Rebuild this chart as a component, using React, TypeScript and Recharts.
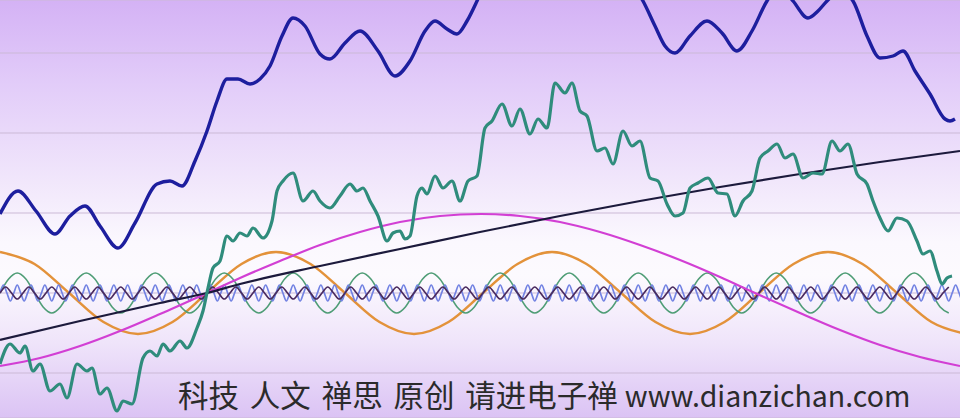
import { LineChart, Line, XAxis, YAxis, CartesianGrid } from "recharts"

// y values are relative to the zero line of the picture
const sumX = [0, 18, 36, 55, 70, 85, 100, 118, 135, 157, 170, 182, 195, 207, 217, 227, 238, 250, 260, 270, 282, 293, 305, 320, 330, 345, 360, 378, 395, 410, 425, 435, 447, 457, 467, 477, 490, 510, 530, 550, 570, 590, 610, 630, 643, 655, 665, 675, 690, 707, 722, 737, 752, 767, 780, 793, 808, 818, 827, 840, 853, 867, 880, 893, 903, 915, 930, 945, 950, 955]
const sumY = [79, 102, 82, 59, 77, 87, 67, 45, 70, 109, 112, 107, 132, 162, 192, 214, 214, 209, 214, 227, 257, 275, 267, 239, 234, 250, 262, 242, 217, 232, 262, 272, 264, 259, 272, 292, 322, 347, 337, 327, 347, 352, 332, 312, 292, 267, 247, 240, 257, 272, 260, 242, 262, 292, 307, 292, 275, 282, 292, 302, 292, 257, 235, 237, 242, 222, 199, 174, 172, 174]

const partX = [0, 10, 20, 25, 33, 40, 50, 60, 67, 77, 87, 92, 100, 107, 117, 123, 132, 143, 150, 157, 163, 170, 180, 187, 197, 203, 208, 213, 220, 227, 233, 240, 247, 253, 263, 272, 277, 283, 293, 303, 313, 320, 330, 340, 350, 357, 363, 370, 378, 387, 393, 400, 405, 410, 417, 422, 427, 435, 443, 452, 460, 468, 477, 485, 492, 502, 512, 520, 530, 538, 547, 555, 565, 572, 580, 587, 597, 605, 613, 623, 632, 640, 650, 658, 667, 675, 683, 690, 698, 708, 718, 727, 735, 743, 752, 760, 768, 777, 785, 793, 803, 813, 822, 832, 840, 848, 857, 867, 873, 880, 888, 897, 907, 917, 923, 930, 937, 942, 947, 952]
const partY = [-71, -51, -60, -53, -78, -71, -98, -91, -105, -71, -78, -75, -101, -95, -118, -108, -111, -65, -58, -63, -51, -58, -48, -55, -35, -18, 5, 25, 32, 57, 52, 60, 57, 65, 55, 72, 102, 112, 120, 92, 102, 92, 85, 97, 109, 102, 105, 92, 77, 52, 60, 62, 54, 57, 97, 105, 99, 117, 105, 112, 92, 112, 117, 165, 172, 189, 167, 184, 159, 174, 165, 210, 200, 210, 182, 177, 142, 145, 129, 162, 147, 152, 115, 112, 89, 77, 80, 105, 110, 115, 100, 99, 77, 92, 102, 135, 142, 149, 135, 139, 115, 120, 119, 152, 142, 149, 119, 109, 92, 75, 62, 75, 72, 52, 39, 42, 22, 9, 15, 17]

const slowX = [0, 80, 160, 207, 240, 320, 400, 480, 560, 640, 720, 800, 880, 960]
const slowY = [-47, -28, -10, 0, 9, 27, 44, 61, 77, 92, 106, 119, 131, 142]

const halfX = [0, 40, 80, 120, 160, 207, 240, 280, 320, 360, 400, 440, 481, 520, 560, 600, 640, 680, 720, 755, 800, 840, 880, 920, 960]
const halfY = [-73, -65, -53, -38, -21, 0, 15, 32, 48, 61, 71, 77, 79, 77, 71, 61, 48, 33, 16, 0, -20, -37, -52, -64, -73]

const orangeStep = 34.5
const orangeY = [41, 29, 0, -29, -41, -29, 0, 29, 41, 29, 0, -29, -41, -29, 0, 29, 41, 29, 0, -29, -41, -29, 0, 29, 41, 29, 0, -29, -41]

const greenStep = 8.625
const greenY = [
  0, 14, 20, 14, 0, -14, -20, -14, 0, 14, 20, 14, 0, -14, -20, -14,
  0, 14, 20, 14, 0, -14, -20, -14, 0, 14, 20, 14, 0, -14, -20, -14,
  0, 14, 20, 14, 0, -14, -20, -14, 0, 14, 20, 14, 0, -14, -20, -14,
  0, 14, 20, 14, 0, -14, -20, -14, 0, 14, 20, 14, 0, -14, -20, -14,
  0, 14, 20, 14, 0, -14, -20, -14, 0, 14, 20, 14, 0, -14, -20, -14,
  0, 14, 20, 14, 0, -14, -20, -14, 0, 14, 20, 14, 0, -14, -20, -14,
  0, 14, 20, 14, 0, -14, -20, -14, 0, 14, 20, 14, 0, -14, -20,
]

const blueStep = 3.45
const blueY = [
  0, 8, 0, -8, 0, 8, 0, -8, 0, 8, 0, -8, 0, 8, 0, -8, 0, 8, 0, -8, 0, 8, 0, -8,
  0, 8, 0, -8, 0, 8, 0, -8, 0, 8, 0, -8, 0, 8, 0, -8, 0, 8, 0, -8, 0, 8, 0, -8,
  0, 8, 0, -8, 0, 8, 0, -8, 0, 8, 0, -8, 0, 8, 0, -8, 0, 8, 0, -8, 0, 8, 0, -8,
  0, 8, 0, -8, 0, 8, 0, -8, 0, 8, 0, -8, 0, 8, 0, -8, 0, 8, 0, -8, 0, 8, 0, -8,
  0, 8, 0, -8, 0, 8, 0, -8, 0, 8, 0, -8, 0, 8, 0, -8, 0, 8, 0, -8, 0, 8, 0, -8,
  0, 8, 0, -8, 0, 8, 0, -8, 0, 8, 0, -8, 0, 8, 0, -8, 0, 8, 0, -8, 0, 8, 0, -8,
  0, 8, 0, -8, 0, 8, 0, -8, 0, 8, 0, -8, 0, 8, 0, -8, 0, 8, 0, -8, 0, 8, 0, -8,
  0, 8, 0, -8, 0, 8, 0, -8, 0, 8, 0, -8, 0, 8, 0, -8, 0, 8, 0, -8, 0, 8, 0, -8,
  0, 8, 0, -8, 0, 8, 0, -8, 0, 8, 0, -8, 0, 8, 0, -8, 0, 8, 0, -8, 0, 8, 0, -8,
  0, 8, 0, -8, 0, 8, 0, -8, 0, 8, 0, -8, 0, 8, 0, -8, 0, 8, 0, -8, 0, 8, 0, -8,
  0, 8, 0, -8, 0, 8, 0, -8, 0, 8, 0, -8, 0, 8, 0, -8, 0, 8, 0, -8, 0, 8, 0, -8,
  0, 8, 0, -8, 0, 8, 0, -8, 0, 8, 0, -8, 0, 8, 0, -8, 0, 8, 0, -8, 0,
]

const purpleStep = 5.75
const purpleY = [
  0, 6, 0, -6, 0, 6, 0, -6, 0, 6, 0, -6, 0, 6, 0, -6, 0, 6, 0, -6, 0, 6, 0, -6,
  0, 6, 0, -6, 0, 6, 0, -6, 0, 6, 0, -6, 0, 6, 0, -6, 0, 6, 0, -6, 0, 6, 0, -6,
  0, 6, 0, -6, 0, 6, 0, -6, 0, 6, 0, -6, 0, 6, 0, -6, 0, 6, 0, -6, 0, 6, 0, -6,
  0, 6, 0, -6, 0, 6, 0, -6, 0, 6, 0, -6, 0, 6, 0, -6, 0, 6, 0, -6, 0, 6, 0, -6,
  0, 6, 0, -6, 0, 6, 0, -6, 0, 6, 0, -6, 0, 6, 0, -6, 0, 6, 0, -6, 0, 6, 0, -6,
  0, 6, 0, -6, 0, 6, 0, -6, 0, 6, 0, -6, 0, 6, 0, -6, 0, 6, 0, -6, 0, 6, 0, -6,
  0, 6, 0, -6, 0, 6, 0, -6, 0, 6, 0, -6, 0, 6, 0, -6, 0, 6, 0, -6, 0, 6,
]

const gridTicks = [-80, 0, 80, 160, 240]
const captionCjk = "科技 人文 禅思 原创 请进电子禅"
const captionUrl = "www.dianzichan.com"

const pairs = (xs: number[], ys: number[]) => xs.map((x, i) => ({ x, y: ys[i] }))
const stepped = (step: number, ys: number[]) => ys.map((y, i) => ({ x: i * step, y }))

const sumData = pairs(sumX, sumY)
const partData = pairs(partX, partY)
const slowData = pairs(slowX, slowY)
const halfData = pairs(halfX, halfY)
const orangeData = stepped(orangeStep, orangeY)
const greenData = stepped(greenStep, greenY)
const blueData = stepped(blueStep, blueY)
const purpleData = stepped(purpleStep, purpleY)

const lineProps = { dataKey: "y", type: "monotone" as const, dot: false, activeDot: false, isAnimationActive: false }

export default function App() {
  return (
    <div
      style={{
        position: "absolute",
        left: 0,
        top: 0,
        width: 960,
        height: 418,
        overflow: "hidden",
        background:
          "linear-gradient(to bottom, #d4b2f5 0%, #e2ccf9 20%, #f0e5fb 42%, #fbf8fe 58%, #fcfafe 66%, #efe4fa 82%, #dbc3f4 100%)",
      }}
    >
      <LineChart width={960} height={418} margin={{ top: 0, right: 0, bottom: 0, left: 0 }}>
        <CartesianGrid vertical={false} stroke="#cbb9d6" strokeWidth={1} />
        <XAxis type="number" dataKey="x" domain={[0, 960]} hide allowDataOverflow />
        <YAxis type="number" domain={[-125, 293]} ticks={gridTicks} hide allowDataOverflow />
        <Line {...lineProps} data={orangeData} stroke="#e3923a" strokeWidth={2.5} />
        <Line {...lineProps} data={greenData} stroke="#4f9d76" strokeWidth={1.6} />
        <Line {...lineProps} data={blueData} stroke="#7282e2" strokeWidth={1.7} />
        <Line {...lineProps} data={purpleData} stroke="#4a2a5e" strokeWidth={1.7} />
        <Line {...lineProps} data={halfData} stroke="#d23fd4" strokeWidth={2.2} />
        <Line {...lineProps} data={slowData} stroke="#1c1a3c" strokeWidth={2.2} />
        <Line {...lineProps} data={partData} stroke="#2f8c7c" strokeWidth={3.2} />
        <Line {...lineProps} data={sumData} stroke="#1d1e9e" strokeWidth={3.4} />
      </LineChart>
      <div
        style={{
          position: "absolute",
          left: 178,
          top: 374,
          fontFamily: "'Noto Sans CJK SC', 'Noto Sans', sans-serif",
          color: "#2b2b2b",
          whiteSpace: "nowrap",
          lineHeight: "40px",
        }}
      >
        <span style={{ fontSize: 30.5, wordSpacing: 4 }}>{captionCjk}</span>
        <span style={{ fontSize: 28.5, marginLeft: 7 }}>{captionUrl}</span>
      </div>
    </div>
  )
}
